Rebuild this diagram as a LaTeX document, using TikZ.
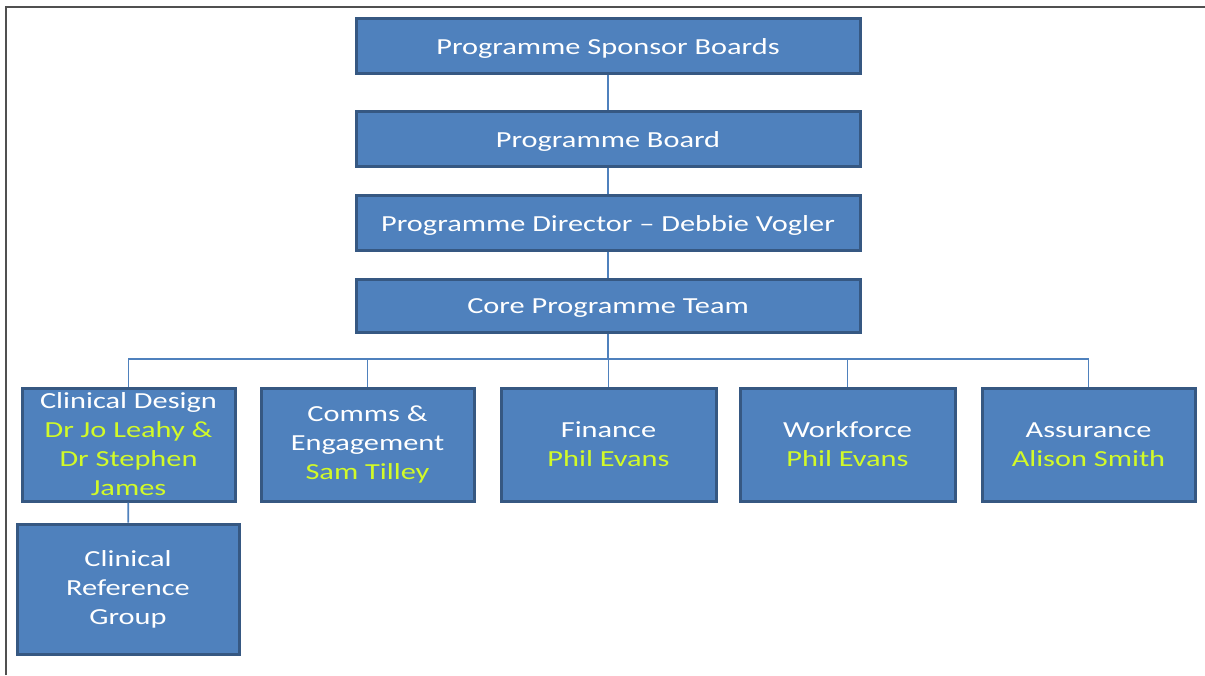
\documentclass[tikz,border=0pt]{standalone}
\usepackage{fontspec}
\setmainfont{Carlito}[FakeStretch=1.32]
\definecolor{boxfill}{RGB}{79,129,189}
\definecolor{boxline}{RGB}{54,88,130}
\definecolor{nameyellow}{RGB}{210,250,40}
\definecolor{framegray}{RGB}{80,80,80}
\definecolor{linkblue}{RGB}{79,129,189}
\tikzset{
  orgbox/.style={draw=boxline, line width=3pt, fill=boxfill, text=white,
    font=\fontsize{23}{29}\selectfont, inner sep=0pt, align=center},
  topbox/.style={orgbox, minimum width=504pt, minimum height=55pt},
  subbox/.style={orgbox, minimum width=213pt, minimum height=113pt},
  link/.style={draw=linkblue, line width=1.8pt},
}
\newcommand{\yl}[1]{\textcolor{nameyellow}{#1}}
\newcommand{\dn}[1]{\raisebox{-2.5pt}[\height][\depth]{#1}}
\begin{document}
\begin{tikzpicture}[x=1pt,y=-1pt]
\useasboundingbox (0,0) rectangle (1205,675);
\draw[framegray, line width=1.5pt] (6,675) -- (6,7) -- (1205,7);

\node[topbox] (sb) at (608,45.5) {\dn{Programme Sponsor Boards}};
\node[topbox] (pb) at (608,138.5) {\dn{Programme Board}};
\node[topbox] (pd) at (608,222.5) {\dn{Programme Director -- Debbie Vogler}};
\node[topbox, minimum height=53pt] (ct) at (608,305.5) {\dn{Core Programme Team}};

\node[subbox] (cd) at (128.5,444.5) {Clinical Design\\\yl{Dr Jo Leahy \&}\\\yl{Dr Stephen}\\\yl{James}};
\node[subbox] (ce) at (367.5,444.5) {Comms \&\\Engagement\\\yl{Sam Tilley}};
\node[subbox, minimum width=215pt] (fi) at (608.5,444.5) {Finance\\\yl{Phil Evans}};
\node[subbox, minimum width=215pt] (wf) at (847.5,444.5) {Workforce\\\yl{Phil Evans}};
\node[subbox] (as) at (1088.5,444.5) {Assurance\\\yl{Alison Smith}};
\node[orgbox, minimum width=222pt, minimum height=130pt] (cr) at (128,589) {Clinical\\Reference\\Group};

\coordinate (bus) at (608,359);
\draw[link] (sb) -- (pb);
\draw[link] (pb) -- (pd);
\draw[link] (pd) -- (ct);
\draw[link] (ct) -- (bus);
\draw[link] (cd.north) |- (bus) -| (as.north);
\draw[link] (ce.north) -- (ce.north |- bus);
\draw[link] (fi.north) -- (fi.north |- bus);
\draw[link] (wf.north) -- (wf.north |- bus);
\draw[link] (cd) -- (cr);
\end{tikzpicture}
\end{document}
